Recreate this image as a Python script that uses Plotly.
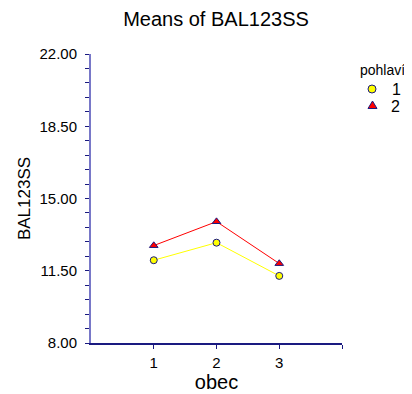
import plotly.graph_objects as go

obec = [1, 2, 3]
means_1 = [12.01, 12.86, 11.25]
means_2 = [12.72, 13.88, 11.85]
y_ticks = [8.00, 11.50, 15.00, 18.50, 22.00]
x_ticks = [1, 2, 3, 4]
x_ticktext = ["1", "2", "3", ""]
legend_title = "pohlaví"
legend_names = ["1", "2"]

NAVY = "#1a1a80"
FONT = "Liberation Sans, Arial, sans-serif"

# the page body adds an 8px margin, so the figure is drawn 8px smaller
OFF = 8
W, H = 412 - OFF, 394 - OFF
L, T = 91 - OFF, 54 - OFF
R = W - (342 - OFF)
B = H - (343 - OFF)
PW, PH = W - L - R, H - T - B


def px(x):
    return (x - OFF - L) / PW


def py(y):
    return (H - B - (y - OFF)) / PH


fig = go.Figure()
fig.add_trace(go.Scatter(
    x=obec, y=means_1, name=legend_names[0], mode="lines+markers",
    line=dict(color="#ffff00", width=1),
    marker=dict(symbol="circle", size=7, color="#ffff00", line=dict(color=NAVY, width=1)),
))
fig.add_trace(go.Scatter(
    x=obec, y=means_2, name=legend_names[1], mode="lines+markers",
    line=dict(color="#ff0000", width=1),
    marker=dict(symbol="triangle-up", size=7.5, color="#ff0000", line=dict(color=NAVY, width=1)),
))

# manual legend (symbols only, no line samples)
shapes = [
    dict(type="circle", xref="paper", yref="paper", xsizemode="pixel", ysizemode="pixel",
         xanchor=px(372), yanchor=py(89), x0=-4, x1=4, y0=-4, y1=4,
         fillcolor="#ffff00", line=dict(color=NAVY, width=1)),
    dict(type="path", xref="paper", yref="paper", xsizemode="pixel", ysizemode="pixel",
         xanchor=px(372.5), yanchor=py(105), path="M-4.5,-3.5 L4.5,-3.5 L0,4 Z",
         fillcolor="#ff0000", line=dict(color=NAVY, width=1)),
]
annotations = [
    dict(text=legend_title, xref="paper", yref="paper", x=px(358), y=py(70),
         xanchor="left", yanchor="middle", showarrow=False,
         font=dict(family=FONT, size=14, color="black")),
    dict(text=legend_names[0], xref="paper", yref="paper", x=px(396.5), y=py(89),
         xanchor="center", yanchor="middle", showarrow=False,
         font=dict(family=FONT, size=16, color="black")),
    dict(text=legend_names[1], xref="paper", yref="paper", x=px(395.5), y=py(106),
         xanchor="center", yanchor="middle", showarrow=False,
         font=dict(family=FONT, size=16, color="black")),
]

fig.update_layout(
    width=W, height=H,
    margin=dict(l=L, r=R, t=T, b=B, autoexpand=False),
    paper_bgcolor="white", plot_bgcolor="white",
    font=dict(family=FONT, size=15, color="black"),
    title=dict(text="Means of BAL123SS", x=(216 - OFF) / W, xanchor="center",
               y=1 - 11 / H, yanchor="middle",
               font=dict(family=FONT, size=20, color="black")),
    showlegend=False,
    shapes=shapes,
    annotations=annotations,
)

fig.update_xaxes(
    range=[0, 4], tickvals=x_ticks, ticktext=x_ticktext,
    showgrid=False, zeroline=False, automargin=False,
    showline=True, linecolor=NAVY, linewidth=1.5,
    ticks="outside", ticklen=4, tickcolor=NAVY, tickwidth=1,
    ticklabelstandoff=1,
    tickfont=dict(family=FONT, size=15, color="black"),
    title=dict(text="obec", font=dict(family=FONT, size=20), standoff=5),
)
fig.update_yaxes(
    range=[8, 22], tickvals=y_ticks, ticktext=[f"{v:.2f}" for v in y_ticks],
    showgrid=False, zeroline=False, automargin=False,
    showline=True, linecolor="#7878c8", linewidth=2,
    ticks="outside", ticklen=4, tickcolor=NAVY, tickwidth=1,
    ticklabelstandoff=5,
    minor=dict(dtick=0.7, tick0=8, ticks="outside", ticklen=4, tickcolor=NAVY, tickwidth=1, showgrid=False),
    tickfont=dict(family=FONT, size=15, color="black"),
    title=dict(text="BAL123SS", font=dict(family=FONT, size=17), standoff=5),
)

fig.write_html("out.html")
